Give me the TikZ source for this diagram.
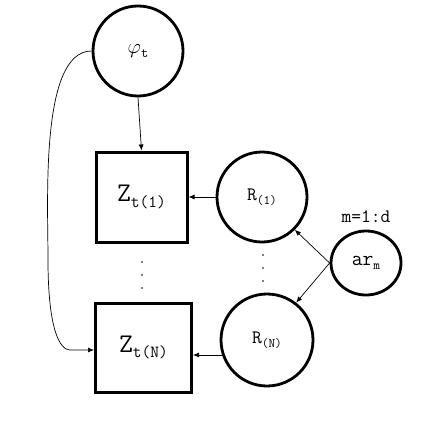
\documentclass[tikz,border=0pt]{standalone}
\usepackage{fontspec}
\setmainfont{Latin Modern Mono}
\usetikzlibrary{arrows.meta,shapes.geometric}

% subscript in a smaller size
\newcommand{\lowsub}[2]{\raisebox{-0.45ex}{\fontsize{#1}{#1}\selectfont #2}}

\tikzset{
  latent/.style={circle, draw, line width=2.8pt, minimum size=90pt, inner sep=0pt},
  plate/.style={rectangle, draw, line width=3pt, inner sep=0pt},
  link/.style={-{Latex[length=6pt,width=5pt]}, line width=0.7pt}
}

\begin{document}
\begin{tikzpicture}[x=1pt,y=-1pt]

  % Fix the page size
  \useasboundingbox (0,0) rectangle (427,423);

  % The top node
  \node[latent] (phi) at (138,51) {\fontsize{20}{20}\selectfont $\varphi$\lowsub{14}{t}};

  % The two boxes
  \node[plate, minimum width=91pt, minimum height=90pt] (Z1) at (141.5,197)
    {\fontsize{27}{27}\selectfont Z\lowsub{17}{t(1)}};
  \node[plate, minimum width=96pt, minimum height=89pt] (ZN) at (143.5,347.5)
    {\fontsize{27}{27}\selectfont Z\lowsub{17}{t(N)}};

  % The two circles on the right
  \node[latent] (R1) at (262,197) {\fontsize{19}{19}\selectfont R\lowsub{13}{(1)}};
  \node[latent, minimum size=92pt] (RN) at (267,340) {\fontsize{19}{19}\selectfont R\lowsub{13}{(N)}};

  % The small node and its label
  \node[ellipse, draw, line width=2.8pt, minimum width=70pt, minimum height=64pt, inner sep=0pt]
    (ar) at (366,263) {\fontsize{21}{21}\selectfont ar\lowsub{13}{m}};
  \node (mlabel) at (366,217) {\fontsize{19}{19}\selectfont m=1:d};

  % Dots between the rows
  \foreach \y in {262,275,288} \fill (142,\y) circle (0.9pt);
  \foreach \y in {255,268,281} \fill (263,\y) circle (0.9pt);

  % Arrows
  \draw[link] (phi.south) -- (Z1.north);
  \draw[link] (R1.west) -- (Z1.east);
  \coordinate (rnl) at (223,355);
  \draw[link] (rnl) -- (ZN.east |- rnl);
  \draw[link] (ar.west) -- (R1.-45);
  \draw[link] (ar.west) -- (RN.52);

  % The long curve on the left
  \coordinate (bend) at (70,350);
  \draw[link] (phi.west) .. controls (40,51) and (48,200) .. (48,260)
    .. controls (48,330) and (60,350) .. (bend) -- (ZN.west |- bend);

\end{tikzpicture}
\end{document}
